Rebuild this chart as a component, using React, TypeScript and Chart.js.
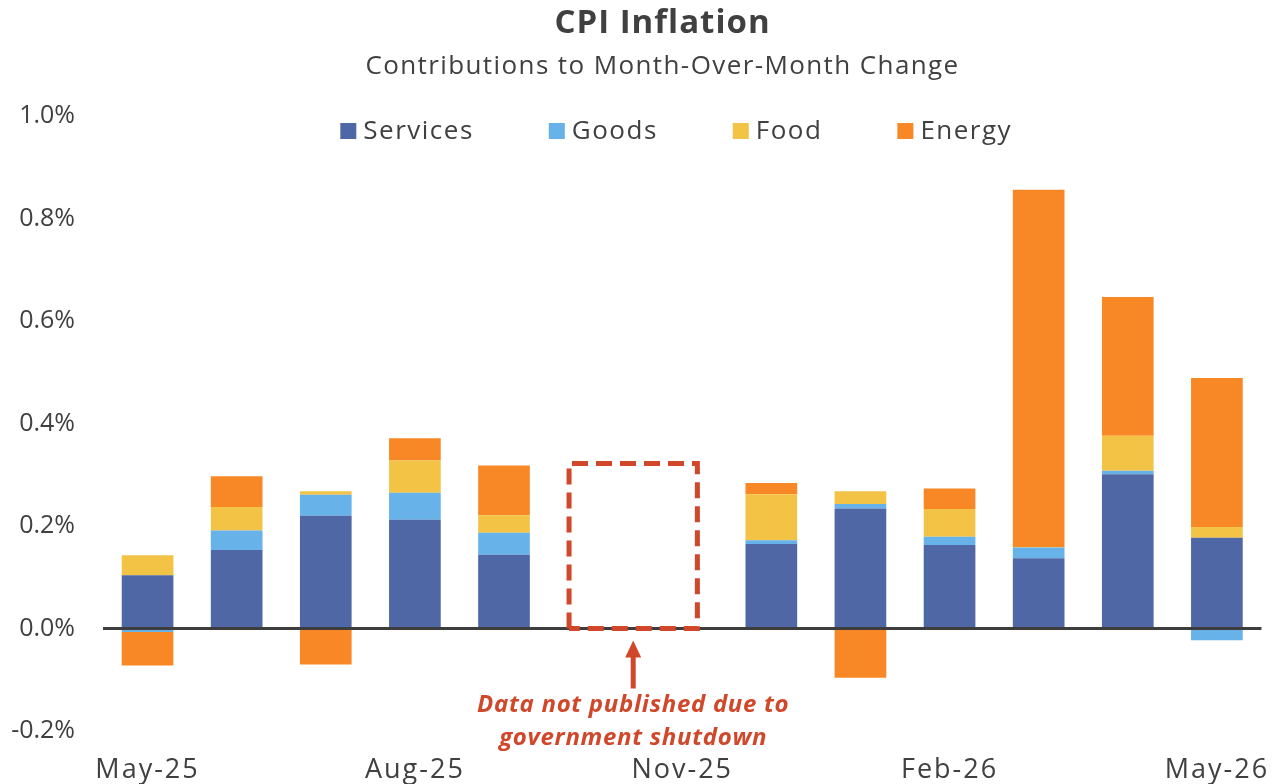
import React, { useEffect, useRef } from "react";
import { Chart, registerables } from "chart.js";

Chart.register(...registerables);

// ---------- data ----------
const months = [
  "May-25", "Jun-25", "Jul-25", "Aug-25", "Sep-25", "Oct-25", "Nov-25",
  "Dec-25", "Jan-26", "Feb-26", "Mar-26", "Apr-26", "May-26",
];
const services = [0.104, 0.153, 0.22, 0.212, 0.144, null, null, 0.165, 0.234, 0.163, 0.137, 0.301, 0.177];
const goods = [-0.007, 0.038, 0.041, 0.053, 0.043, null, null, 0.007, 0.009, 0.016, 0.021, 0.007, -0.023];
const food = [0.039, 0.046, 0.007, 0.063, 0.034, null, null, 0.09, 0.025, 0.054, 0.001, 0.068, 0.021];
const energy = [-0.065, 0.06, -0.07, 0.043, 0.097, null, null, 0.022, -0.096, 0.04, 0.697, 0.271, 0.291];
const seriesNames = ["Services", "Goods", "Food", "Energy"];
const seriesColors = ["#4f68a5", "#67b2e8", "#f2c345", "#f88825"];
const yTicks = [-0.2, 0, 0.2, 0.4, 0.6, 0.8, 1.0];
const shownLabels = ["May-25", "Aug-25", "Nov-25", "Feb-26", "May-26"];
const titleText = "CPI Inflation";
const subtitleText = "Contributions to Month-Over-Month Change";
const noteLines = ["Data not published due to", "government shutdown"];
// missing-data box, in axis units (category index / percent value)
const gapFrom = 4.73;
const gapTo = 6.17;
const gapTop = 0.322;
const arrowAt = 5.45;

const FONT = "'Open Sans', Lato, sans-serif";
const TEXT = "#404040";
const RED = "#d1472a";

const overlay = {
  id: "overlay",
  beforeDraw(chart: any) {
    chart.ctx.letterSpacing = "0px";
  },
  afterDatasetsDraw(chart: any) {
    const { ctx, chartArea, scales } = chart;
    const x = scales.x;
    const y = scales.y;
    const y0 = y.getPixelForValue(0);
    const pxPerCat = x.getPixelForValue(1) - x.getPixelForValue(0);
    const xAt = (v: number) => x.getPixelForValue(0) + v * pxPerCat;

    ctx.save();
    // zero line
    ctx.strokeStyle = "#3d3d3d";
    ctx.lineWidth = 3;
    ctx.beginPath();
    ctx.moveTo(chartArea.left, y0);
    ctx.lineTo(chartArea.right, y0);
    ctx.stroke();

    // dashed box
    const bl = xAt(gapFrom);
    const br = xAt(gapTo);
    const bt = y.getPixelForValue(gapTop);
    ctx.strokeStyle = RED;
    ctx.lineWidth = 5;
    ctx.setLineDash([16, 8]);
    ctx.beginPath();
    ctx.moveTo(bl, y0);
    ctx.lineTo(bl, bt);
    ctx.lineTo(br, bt);
    ctx.lineTo(br, y0);
    ctx.lineTo(bl, y0);
    ctx.stroke();
    ctx.setLineDash([]);

    // arrow
    const ax = xAt(arrowAt);
    ctx.fillStyle = RED;
    ctx.strokeStyle = RED;
    ctx.lineWidth = 5;
    ctx.beginPath();
    ctx.moveTo(ax, y0 + 60);
    ctx.lineTo(ax, y0 + 26);
    ctx.stroke();
    ctx.beginPath();
    ctx.moveTo(ax, y0 + 12);
    ctx.lineTo(ax - 8, y0 + 29);
    ctx.lineTo(ax + 8, y0 + 29);
    ctx.closePath();
    ctx.fill();

    // note text
    ctx.letterSpacing = "0.7px";
    ctx.font = `italic bold 24px ${FONT}`;
    ctx.textAlign = "center";
    ctx.textBaseline = "middle";
    ctx.fillText(noteLines[0], ax, y0 + 77);
    ctx.fillText(noteLines[1], ax, y0 + 110);
    ctx.restore();
    // x-axis labels (drawn after datasets) use wider tracking
    ctx.letterSpacing = "2px";
  },
  afterDraw(chart: any) {
    const { ctx, chartArea, width } = chart;
    ctx.save();
    const cx = width / 2 + 19;
    ctx.fillStyle = TEXT;
    ctx.textAlign = "center";
    ctx.textBaseline = "middle";
    ctx.letterSpacing = "1px";
    ctx.font = `bold 33px ${FONT}`;
    ctx.fillText(titleText, cx, 24);
    ctx.letterSpacing = "1.4px";
    ctx.font = `26px ${FONT}`;
    ctx.fillText(subtitleText, cx, 67);

    // legend
    ctx.letterSpacing = "1.5px";
    ctx.font = `26px ${FONT}`;
    const box = 16;
    const gapText = 7;
    const pad = 75;
    const widths = seriesNames.map((n) => box + gapText + ctx.measureText(n).width);
    const total = widths.reduce((a, b) => a + b, 0) + pad * (widths.length - 1);
    let lx = (chartArea.left + chartArea.right) / 2 - 6 - total / 2;
    const ly = chartArea.top + 15;
    ctx.textAlign = "left";
    seriesNames.forEach((n, i) => {
      ctx.fillStyle = seriesColors[i];
      ctx.fillRect(lx, ly - box / 2, box, box);
      ctx.fillStyle = TEXT;
      ctx.fillText(n, lx + box + gapText, ly + 1);
      lx += widths[i] + pad;
    });
    ctx.restore();
    ctx.letterSpacing = "0px";
  },
};

export default function App() {
  const ref = useRef<HTMLCanvasElement | null>(null);

  useEffect(() => {
    document.body.style.margin = "0";
    if (!ref.current) return;
    const values = [services, goods, food, energy];
    const chart = new Chart(ref.current, {
      type: "bar",
      data: {
        labels: months,
        datasets: seriesNames.map((name, i) => ({
          label: name,
          data: values[i] as any,
          backgroundColor: seriesColors[i],
          borderWidth: 0,
          barPercentage: 1,
          categoryPercentage: 0.58,
        })),
      },
      options: {
        animation: false,
        responsive: true,
        maintainAspectRatio: false,
        layout: { padding: { top: 116, right: 24, left: 0, bottom: 0 } },
        plugins: {
          legend: { display: false },
          title: { display: false },
          tooltip: { enabled: false },
        },
        scales: {
          x: {
            stacked: true,
            grid: { display: false, drawTicks: false },
            border: { display: false },
            ticks: {
              z: 1,
              autoSkip: false,
              maxRotation: 0,
              padding: 23,
              color: TEXT,
              font: { family: FONT, size: 27 },
              callback: (_v: any, idx: number) =>
                shownLabels.includes(months[idx]) ? months[idx] : "",
            },
            afterFit: (s: any) => {
              s.height = 53;
            },
          },
          y: {
            stacked: true,
            min: -0.2,
            max: 1.0,
            grid: { display: false, drawTicks: false },
            border: { display: false },
            afterBuildTicks: (s: any) => {
              s.ticks = yTicks.map((v) => ({ value: v }));
            },
            ticks: {
              padding: 28,
              color: TEXT,
              font: { family: FONT, size: 25 },
              callback: (v: any) => `${Number(v).toFixed(1)}%`,
            },
            afterFit: (s: any) => {
              s.width = 103;
            },
          },
        },
      },
      plugins: [overlay],
    });
    return () => chart.destroy();
  }, []);

  return (
    <div style={{ width: 1287, height: 784, position: "relative" }}>
      <canvas ref={ref} />
    </div>
  );
}
